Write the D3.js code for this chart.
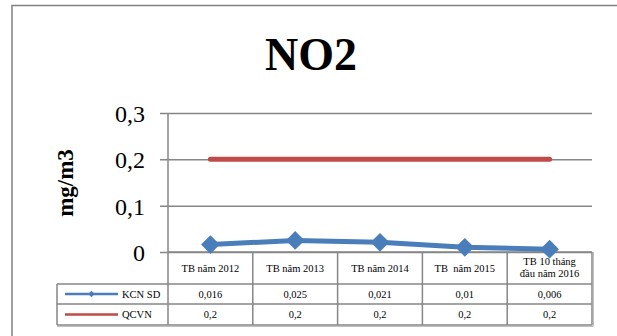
<!DOCTYPE html>
<html>
<head>
<meta charset="utf-8">
<script src="https://cdn.jsdelivr.net/npm/d3@7"></script>
<style>
  body { margin: 0; background: #fff; }
  svg { display: block; }
</style>
</head>
<body>
<div id="chart"></div>
<script>
// Data
const categories = ['TB năm 2012', 'TB năm 2013', 'TB năm 2014', 'TB  năm 2015', 'TB 10 tháng|đầu năm 2016'];
const kcnValues = [0.016, 0.025, 0.021, 0.01, 0.006];
const qcvnValues = [0.2, 0.2, 0.2, 0.2, 0.2];
const kcnLabels = ['0,016', '0,025', '0,021', '0,01', '0,006'];
const qcvnLabels = ['0,2', '0,2', '0,2', '0,2', '0,2'];
const yTicks = [0, 0.1, 0.2, 0.3];

const width = 617, height = 336;
const plot = { left: 168, right: 592, top: 113, bottom: 252 };
const rows = [252, 284, 304, 325]; // table row borders
const legendLeft = 57;
const gridColor = '#868686';
const serif = '"Liberation Serif", "Times New Roman", serif';

const svg = d3.select('#chart').append('svg')
    .attr('width', width)
    .attr('height', height)
    .attr('font-family', serif);

// outer frame (right side runs off the page)
svg.append('path')
    .attr('d', `M12,${height} L12,5.5 L${width},5.5`)
    .attr('fill', 'none')
    .attr('stroke', '#808080')
    .attr('stroke-width', 1.5);

// Scales
const xScale = d3.scaleBand()
    .domain(categories)
    .range([plot.left, plot.right]);
const yScale = d3.scaleLinear()
    .domain([0, 0.3])
    .range([plot.bottom, plot.top]);
const cx = d => xScale(d) + xScale.bandwidth() / 2;

// Title
svg.append('text')
    .attr('x', 311)
    .attr('y', 70)
    .attr('text-anchor', 'middle')
    .attr('font-size', 46)
    .attr('font-weight', 'bold')
    .text('NO2');

// Y axis with gridlines
const yAxis = d3.axisLeft(yScale)
    .tickValues(yTicks)
    .tickSize(0)
    .tickPadding(0)
    .tickFormat(d => d === 0 ? '0' : d3.format('.1f')(d).replace('.', ','));

const yg = svg.append('g')
    .attr('transform', `translate(${plot.left - 8},0)`)
    .call(yAxis);
yg.select('.domain').remove();
yg.selectAll('.tick line')
    .attr('x1', 0)
    .attr('x2', plot.right - plot.left + 8)
    .attr('stroke', gridColor)
    .attr('stroke-width', 1.5);
yg.selectAll('.tick text')
    .attr('x', -15)
    .attr('dy', '0.35em')
    .attr('font-size', 24)
    .attr('font-family', serif)
    .attr('fill', '#000');

// vertical axis line
svg.append('line')
    .attr('x1', plot.left).attr('x2', plot.left)
    .attr('y1', plot.top).attr('y2', rows[3])
    .attr('stroke', gridColor)
    .attr('stroke-width', 1.5);

// Y axis title
svg.append('text')
    .attr('transform', 'translate(73,183) rotate(-90)')
    .attr('text-anchor', 'middle')
    .attr('font-size', 23)
    .attr('font-weight', 'bold')
    .text('mg/m3');

// Data table
const table = svg.append('g').attr('stroke', gridColor).attr('stroke-width', 1.5).attr('fill', 'none');
table.append('line').attr('x1', plot.left).attr('x2', plot.right).attr('y1', rows[0]).attr('y2', rows[0]);
rows.slice(1).forEach(r => {
    table.append('line').attr('x1', legendLeft).attr('x2', plot.right).attr('y1', r).attr('y2', r);
});
table.append('line').attr('x1', legendLeft).attr('x2', legendLeft).attr('y1', rows[1]).attr('y2', rows[3]);
categories.forEach(c => {
    const x = xScale(c) + xScale.bandwidth();
    table.append('line').attr('x1', x).attr('x2', x).attr('y1', rows[0]).attr('y2', rows[3]);
});
// slight shadow on right/bottom edges
svg.append('path')
    .attr('d', `M${legendLeft},${rows[3] + 1.2} L${plot.right + 1.2},${rows[3] + 1.2} L${plot.right + 1.2},${rows[0]}`)
    .attr('fill', 'none')
    .attr('stroke', '#a6a6a6')
    .attr('stroke-width', 1);

// header cells
categories.forEach(c => {
    const parts = c.split('|');
    const t = svg.append('text')
        .attr('x', cx(c))
        .attr('text-anchor', 'middle')
        .attr('font-size', 10.5)
        .attr('xml:space', 'preserve');
    if (parts.length === 1) {
        t.attr('y', 272).text(parts[0]);
    } else {
        t.append('tspan').attr('x', cx(c)).attr('y', 265).text(parts[0]);
        t.append('tspan').attr('x', cx(c)).attr('y', 277).text(parts[1]);
    }
});

// value cells
[kcnLabels, qcvnLabels].forEach((labels, i) => {
    svg.append('g').selectAll('text')
        .data(labels)
        .join('text')
        .attr('x', (d, j) => cx(categories[j]))
        .attr('y', (rows[i + 1] + rows[i + 2]) / 2 + 3.5)
        .attr('text-anchor', 'middle')
        .attr('font-size', 10.5)
        .text(d => d);
});

// legend cells
const blue = '#4a7ebb', red = '#be4b48';
const legendItems = [
    { name: 'KCN SD', color: blue, marker: true },
    { name: 'QCVN', color: red, marker: false }
];
legendItems.forEach((item, i) => {
    const y = (rows[i + 1] + rows[i + 2]) / 2;
    svg.append('line')
        .attr('x1', 65).attr('x2', 118)
        .attr('y1', y).attr('y2', y)
        .attr('stroke', item.color)
        .attr('stroke-width', 2.5);
    if (item.marker) {
        svg.append('path')
            .attr('d', d3.symbol(d3.symbolSquare, 20)())
            .attr('transform', `translate(91.5,${y}) rotate(45)`)
            .attr('fill', item.color);
    }
    svg.append('text')
        .attr('x', 122)
        .attr('y', y + 3.5)
        .attr('font-size', 10.5)
        .text(item.name);
});

// Series lines
const line = d3.line()
    .x((d, i) => cx(categories[i]))
    .y(d => yScale(d));

svg.append('path')
    .datum(qcvnValues)
    .attr('d', line)
    .attr('fill', 'none')
    .attr('stroke', red)
    .attr('stroke-width', 5)
    .attr('stroke-linecap', 'round');

svg.append('path')
    .datum(kcnValues)
    .attr('d', line)
    .attr('fill', 'none')
    .attr('stroke', blue)
    .attr('stroke-width', 5)
    .attr('stroke-linejoin', 'round');

svg.append('g').selectAll('path')
    .data(kcnValues)
    .join('path')
    .attr('d', d3.symbol(d3.symbolSquare, 175)())
    .attr('transform', (d, i) => `translate(${cx(categories[i])},${yScale(d)}) rotate(45)`)
    .attr('fill', blue);
</script>
</body>
</html>
